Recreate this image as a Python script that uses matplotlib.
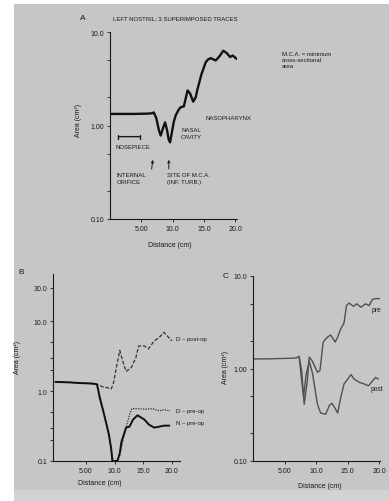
import matplotlib
matplotlib.use("Agg")
import matplotlib.pyplot as plt
from matplotlib.patches import Rectangle
from matplotlib.ticker import NullFormatter

plt.rcParams['font.family'] = ['Liberation Sans', 'DejaVu Sans']

W, H = 389, 502

# panel A - left nostril, 3 superimposed traces
a_x = [0.3, 2, 4, 6, 6.7, 7.0, 7.4, 7.8, 8.1, 8.5, 8.8, 9.1, 9.4, 9.6, 9.9, 10.2, 10.5, 10.9, 11.3, 11.8,
       12.1, 12.4, 12.8, 13.3, 13.7, 14.0, 14.6, 15.3, 15.7, 16.1, 16.5, 16.9, 17.5, 18.1, 18.6, 19.2, 19.6, 20.2]
a_y = [1.33, 1.33, 1.33, 1.34, 1.35, 1.38, 1.2, 0.9, 0.78, 0.95, 1.08, 0.9, 0.7, 0.66, 0.85, 1.1, 1.28, 1.45, 1.57, 1.6,
       1.95, 2.37, 2.2, 1.8, 2.0, 2.47, 3.5, 4.75, 5.1, 5.25, 5.1, 4.96, 5.5, 6.3, 6.0, 5.4, 5.6, 5.2]

# panel B
b_post_x = [-0.3, 2, 4, 6, 6.9, 7.4, 8.0, 8.7, 9.4, 9.8, 10.3, 10.9, 11.4, 12.0, 12.9, 13.7, 14.2, 15.2, 15.9, 16.9,
            17.8, 18.6, 19.4, 20.0]
b_post_y = [1.35, 1.33, 1.3, 1.28, 1.25, 1.2, 1.14, 1.12, 1.07, 1.3, 2.16, 3.8, 2.7, 1.9, 2.16, 3.0, 4.4, 4.4, 4.0, 5.2,
            5.85, 6.9, 5.85, 5.2]
b_npre_x = [-0.3, 2, 4, 6, 6.9, 7.1, 7.4, 8.0, 8.6, 9.0, 9.4, 9.6, 10.0, 10.5, 10.9, 11.2, 12.0, 12.6, 13.2, 14.0,
            15.2, 16.0, 16.9, 17.8, 18.6, 19.5]
b_npre_y = [1.35, 1.33, 1.3, 1.28, 1.25, 1.07, 0.8, 0.52, 0.33, 0.24, 0.15, 0.1, 0.1, 0.1, 0.13, 0.19, 0.30, 0.31, 0.39, 0.45,
            0.39, 0.33, 0.30, 0.31, 0.32, 0.32]
b_dpre_x = [6.9, 7.2, 7.6, 8.1, 8.6, 9.1, 9.5, 9.8, 10.3, 10.9, 11.4, 12.0, 12.6, 13.0, 14.0, 15.4, 16.6, 17.8, 18.6, 19.7]
b_dpre_y = [1.25, 1.0, 0.75, 0.5, 0.33, 0.2, 0.13, 0.1, 0.1, 0.12, 0.19, 0.30, 0.46, 0.56, 0.56, 0.55, 0.56, 0.52, 0.54, 0.52]

# panel C
c_pre_x = [0.2, 2, 4, 6, 6.8, 7.3, 7.7, 8.1, 8.6, 8.9, 9.4, 10.2, 10.6, 11.1, 11.8, 12.3, 13.0, 13.4, 13.9, 14.4,
           14.8, 15.2, 15.9, 16.4, 17.1, 17.8, 18.4, 18.9, 19.5, 20.0]
c_pre_y = [1.27, 1.27, 1.28, 1.29, 1.3, 1.35, 0.95, 0.41, 0.74, 1.33, 1.2, 0.91, 0.95, 1.93, 2.19, 2.3, 1.93, 2.19, 2.7, 3.1,
           4.8, 5.1, 4.7, 5.0, 4.6, 5.0, 4.8, 5.6, 5.7, 5.7]
c_post_x = [7.3, 7.6, 8.0, 8.4, 8.9, 9.4, 10.2, 10.7, 11.5, 12.1, 12.5, 13.0, 13.4, 13.9, 14.4, 15.0, 15.5, 16.0, 16.8, 17.6,
            18.3, 18.8, 19.4, 19.8]
c_post_y = [1.35, 0.85, 0.5, 0.85, 1.2, 0.9, 0.41, 0.33, 0.32, 0.40, 0.42, 0.37, 0.33, 0.49, 0.68, 0.77, 0.86, 0.77, 0.71, 0.68,
            0.65, 0.72, 0.8, 0.77]

x_ticks = [5, 10, 15, 20]
x_labels = ['5.00', '10.0', '15.0', '20.0']

ink = '#1a1a1a'
fs = 5


def px(x, y):
    # pixel position -> figure fraction
    return x / W, 1 - y / H


def rect(l, t, r, b):
    return [l / W, 1 - b / H, (r - l) / W, (b - t) / H]


def style(ax, xlim, ylim, yt, ytl, minor):
    ax.set_facecolor('none')
    ax.set_yscale('log')
    ax.set_xlim(*xlim)
    ax.set_ylim(*ylim)
    ax.set_xticks(x_ticks, x_labels)
    ax.set_yticks(yt, ytl)
    ax.set_yticks(minor, minor=True)
    ax.yaxis.set_minor_formatter(NullFormatter())
    for s in ['top', 'right']:
        ax.spines[s].set_visible(False)
    for s in ['left', 'bottom']:
        ax.spines[s].set_color(ink)
        ax.spines[s].set_linewidth(0.8)
    ax.tick_params(which='both', direction='out', length=2.5, width=0.6, colors=ink,
                   labelsize=fs, pad=1.5)
    ax.tick_params(which='minor', length=2)


fig = plt.figure(figsize=(W / 100, H / 100), dpi=100)
fig.patch.set_facecolor('white')
fig.patches.append(Rectangle((14 / W, 0), 1 - 14 / W, 1 - 5 / H, transform=fig.transFigure,
                             facecolor='#c6c6c6', edgecolor='none', zorder=-10))
fig.patches.append(Rectangle((14 / W, 0), 1 - 14 / W, 11 / H, transform=fig.transFigure,
                             facecolor='#d2d2d2', edgecolor='none', zorder=-9))

# ---- A
axA = fig.add_axes(rect(110, 33, 237, 220))
style(axA, (0, 20.3), (0.1, 10), [0.1, 1, 10], ['0.10', '1.00', '10.0'], [0.2, 0.5, 2, 5])
axA.plot(a_x, a_y, color='#111111', lw=1.7, solid_joinstyle='round')
axA.set_ylabel('Area (cm²)', fontsize=fs, color=ink)
axA.yaxis.set_label_coords(-0.22, 0.53)
axA.set_xlabel('Distance (cm)', fontsize=fs, color=ink)
axA.xaxis.set_label_coords(0.47, -0.12)

fig.text(*px(80, 19), 'A', fontsize=6, color=ink, va='center')
fig.text(*px(113, 19), 'LEFT NOSTRIL; 3 SUPERIMPOSED TRACES', fontsize=4.3, color=ink, va='center')
fig.text(*px(282, 52), 'M.C.A. = minimum\ncross-sectional\narea', fontsize=4.3, color=ink,
         va='top', linespacing=1.2)
fig.text(*px(205, 118), 'NASOPHARYNX', fontsize=4.3, color=ink, va='center')
fig.text(*px(181, 128), 'NASAL\nCAVITY', fontsize=4.3, color=ink, va='top', linespacing=1.5)
fig.text(*px(116, 148), 'NOSEPIECE', fontsize=4.3, color=ink, va='center')
fig.text(*px(117, 173), 'INTERNAL\nORIFICE', fontsize=4.3, color=ink, va='top', linespacing=1.5)
fig.text(*px(167, 173), 'SITE OF M.C.A.\n(INF. TURB.)', fontsize=4.3, color=ink, va='top', linespacing=1.5)
axA.annotate('', xy=(5.2, 0.76), xytext=(0.9, 0.76),
             arrowprops=dict(arrowstyle='|-|', color=ink, lw=1.0, mutation_scale=1.5))
axA.annotate('', xy=(6.9, 0.46), xytext=(6.6, 0.32),
             arrowprops=dict(arrowstyle='->', color=ink, lw=0.7, mutation_scale=4))
axA.annotate('', xy=(9.4, 0.46), xytext=(9.4, 0.32),
             arrowprops=dict(arrowstyle='->', color=ink, lw=0.7, mutation_scale=4))

# ---- B
axB = fig.add_axes(rect(53, 275, 180, 462))
style(axB, (-0.75, 21.4), (0.1, 47), [0.1, 1, 10, 30], ['0.1', '1.0', '10.0', '30.0'],
      [0.2, 0.3, 0.5, 2, 3, 5])
axB.plot(b_post_x, b_post_y, color='#333333', lw=0.9, ls=(0, (3, 1.5)))
axB.plot(b_dpre_x, b_dpre_y, color='#333333', lw=0.9, ls=(0, (1, 1)), clip_on=False)
axB.plot(b_npre_x, b_npre_y, color='#111111', lw=1.4, clip_on=False)
axB.set_ylabel('Area (cm²)', fontsize=fs, color=ink)
axB.yaxis.set_label_coords(-0.25, 0.56)
axB.set_xlabel('Distance (cm)', fontsize=fs, color=ink)
axB.xaxis.set_label_coords(0.37, -0.096)
fig.text(*px(18, 273), 'B', fontsize=6, color=ink, va='center')
fig.text(*px(176, 340), 'D – post-op', fontsize=4.3, color=ink, va='center')
fig.text(*px(176, 411), 'D – pre-op', fontsize=4.3, color=ink, va='center')
fig.text(*px(176, 424), 'N – pre-op', fontsize=4.3, color=ink, va='center')

# ---- C
axC = fig.add_axes(rect(253, 277, 380, 462))
style(axC, (0, 20.1), (0.1, 10), [0.1, 1, 10], ['0.10', '1.00', '10.0'], [0.2, 0.5, 2, 5])
axC.plot(c_pre_x, c_pre_y, color='#505050', lw=1.0)
axC.plot(c_post_x, c_post_y, color='#505050', lw=1.0)
axC.set_ylabel('Area (cm²)', fontsize=fs, color=ink)
axC.yaxis.set_label_coords(-0.19, 0.51)
axC.set_xlabel('Distance (cm)', fontsize=fs, color=ink)
axC.xaxis.set_label_coords(0.53, -0.115)
fig.text(*px(223, 277), 'C', fontsize=6, color=ink, va='center')
fig.text(*px(372, 310), 'pre', fontsize=4.8, color=ink, va='center')
fig.text(*px(371, 390), 'post', fontsize=4.8, color=ink, va='center')

fig.savefig('out.png', dpi=100)
